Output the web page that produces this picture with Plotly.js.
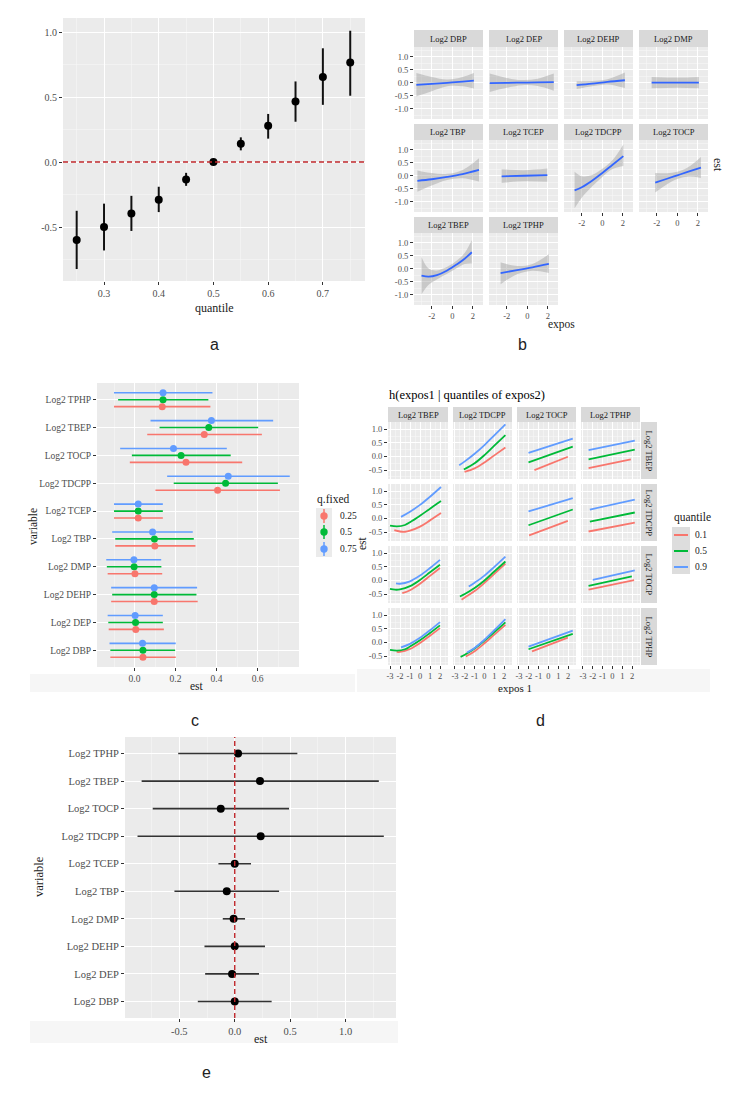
<!DOCTYPE html>
<html><head><meta charset="utf-8">
<script src="https://cdn.plot.ly/plotly-3.0.1.min.js"></script>
<style>html,body{margin:0;padding:0;background:#fff}#chart{width:738px;height:1094px}</style>
</head><body><div id="chart"></div>
<script>
// ================= DATA =================
// Panel a
const aQuantile = [0.25,0.30,0.35,0.40,0.45,0.50,0.55,0.60,0.65,0.70,0.75];
const aEst   = [-0.60,-0.50,-0.395,-0.29,-0.135,0.00,0.14,0.28,0.465,0.655,0.765];
const aLower = [-0.823,-0.68,-0.53,-0.385,-0.183,0.00,0.09,0.18,0.31,0.44,0.51];
const aUpper = [-0.375,-0.32,-0.26,-0.19,-0.083,0.00,0.19,0.37,0.62,0.875,1.01];

// Panel b (univariate exposure-response, est with ribbon)
const bFacetNames = ['Log2 DBP','Log2 DEP','Log2 DEHP','Log2 DMP','Log2 TBP','Log2 TCEP','Log2 TDCPP','Log2 TOCP','Log2 TBEP','Log2 TPHP'];
const bDBP_x=[-3.5,-2,-0.5,1,2.1],    bDBP_est=[-0.09,-0.05,-0.01,0.04,0.08], bDBP_lo=[-0.53,-0.33,-0.14,-0.14,-0.23], bDBP_hi=[0.37,0.22,0.12,0.22,0.37];
const bDEP_x=[-3.66,-2,-0.5,1,2.58],  bDEP_est=[-0.02,-0.01,0,0.01,0.02],     bDEP_lo=[-0.36,-0.2,-0.1,-0.13,-0.31],  bDEP_hi=[0.35,0.18,0.1,0.15,0.35];
const bDEHP_x=[-2.5,-1,0.5,2.2],      bDEHP_est=[-0.1,-0.04,0.03,0.09],       bDEHP_lo=[-0.25,-0.14,-0.07,-0.21],     bDEHP_hi=[0.05,0.06,0.13,0.39];
const bDMP_x=[-2.5,0,2.1],            bDMP_est=[0,0,0],                       bDMP_lo=[-0.22,-0.2,-0.22],             bDMP_hi=[0.22,0.2,0.22];
const bTBP_x=[-3.4,-2,-0.5,1,2.6],    bTBP_est=[-0.2,-0.14,-0.05,0.06,0.22],  bTBP_lo=[-0.62,-0.38,-0.17,-0.1,-0.23], bTBP_hi=[0.2,0.1,0.07,0.22,0.67];
const bTCEP_x=[-2.5,-0.3,1.95],       bTCEP_est=[-0.03,-0.005,0.02],          bTCEP_lo=[-0.28,-0.22,-0.24],           bTCEP_hi=[0.24,0.21,0.27];
const bTDCPP_x=[-2.7,-2,-1,0,1,2.05], bTDCPP_est=[-0.57,-0.45,-0.2,0.1,0.42,0.75], bTDCPP_lo=[-1.26,-0.85,-0.42,-0.05,0.25,0.37], bTDCPP_hi=[0.15,-0.02,0.02,0.26,0.6,1.2];
const bTOCP_x=[-2.15,-1,0,1,2.3],     bTOCP_est=[-0.27,-0.12,0.01,0.14,0.31], bTOCP_lo=[-0.65,-0.33,-0.13,-0.04,-0.09], bTOCP_hi=[0.1,0.09,0.15,0.31,0.72];
const bTBEP_x=[-3,-2.3,-1.5,-0.5,0.5,1.2,1.9], bTBEP_est=[-0.27,-0.31,-0.25,-0.07,0.18,0.38,0.63], bTBEP_lo=[-0.99,-0.62,-0.42,-0.2,0.03,0.18,0.2], bTBEP_hi=[0.45,0.0,-0.07,0.07,0.33,0.6,1.1];
const bTPHP_x=[-2.6,-1,0.5,2.1],      bTPHP_est=[-0.17,-0.06,0.05,0.18],      bTPHP_lo=[-0.6,-0.22,-0.08,-0.17],      bTPHP_hi=[0.24,0.1,0.18,0.55];

// Panel c (single-variable effects at fixed quantiles)
const cVariables = ['Log2 DBP','Log2 DEP','Log2 DEHP','Log2 DMP','Log2 TBP','Log2 TCEP','Log2 TDCPP','Log2 TOCP','Log2 TBEP','Log2 TPHP'];
const cQuantiles = ['0.25','0.5','0.75'];
const c25_est = [0.041,0.006,0.096,0.002,0.099,0.018,0.405,0.251,0.340,0.135];
const c25_lo  = [-0.118,-0.126,-0.114,-0.131,-0.094,-0.100,0.102,-0.023,0.062,-0.100];
const c25_hi  = [0.201,0.143,0.308,0.135,0.297,0.138,0.709,0.525,0.621,0.370];
const c50_est = [0.041,0.005,0.096,-0.002,0.097,0.018,0.444,0.227,0.362,0.139];
const c50_lo  = [-0.118,-0.128,-0.109,-0.135,-0.094,-0.100,0.191,-0.013,0.122,-0.080];
const c50_hi  = [0.198,0.138,0.302,0.131,0.289,0.138,0.699,0.469,0.603,0.360];
const c75_est = [0.039,0.003,0.096,-0.003,0.088,0.018,0.457,0.190,0.375,0.139];
const c75_lo  = [-0.122,-0.131,-0.114,-0.138,-0.109,-0.100,0.159,-0.070,0.078,-0.100];
const c75_hi  = [0.201,0.138,0.305,0.130,0.284,0.138,0.757,0.450,0.676,0.380];

// Panel d (bivariate: h(expos1 | quantiles of expos2)); rows = expos2, cols = expos1
const dVars = ['Log2 TBEP','Log2 TDCPP','Log2 TOCP','Log2 TPHP'];
const dQuantiles = ['0.1','0.5','0.9'];
const dR1C2 = {x1:[-2.03,-1,0,1,2.13], y1:[-0.57,-0.44,-0.22,0.04,0.33], x5:[-2.1,-1,0,1,2.13], y5:[-0.48,-0.25,0.05,0.4,0.79], x9:[-2.57,-2,-1,0,1,2.13], y9:[-0.32,-0.18,0.1,0.42,0.78,1.18]};
const dR1C3 = {x1:[-1.43,1.97], y1:[-0.5,-0.01], x5:[-2.03,2.47], y5:[-0.22,0.36], x9:[-2.03,2.47], y9:[0.135,0.66]};
const dR1C4 = {x1:[-2.43,1.87], y1:[-0.43,-0.11], x5:[-2.43,2.27], y5:[-0.11,0.25], x9:[-2.43,2.27], y9:[0.23,0.58]};
const dR2C1 = {x1:[-2.57,-2,-1.5,-1,0,1,2.1], y1:[-0.43,-0.48,-0.49,-0.45,-0.3,-0.07,0.2], x5:[-3,-2.3,-1.5,-1,0,1,2.1], y5:[-0.26,-0.29,-0.24,-0.14,0.1,0.36,0.64], x9:[-1.9,-1,0,1,2.1], y9:[0.06,0.25,0.5,0.8,1.16]};
const dR2C3 = {x1:[-1.97,1.97], y1:[-0.62,-0.09], x5:[-2.03,2.47], y5:[-0.25,0.33], x9:[-2.03,2.47], y9:[0.26,0.75]};
const dR2C4 = {x1:[-2.43,2.27], y1:[-0.48,-0.15], x5:[-2.3,2.27], y5:[-0.12,0.22], x9:[-2.3,2.27], y9:[0.33,0.69]};
const dR3C1 = {x1:[-1.77,-1,0,1,2], y1:[-0.47,-0.36,-0.12,0.17,0.46], x5:[-3,-2.5,-2,-1,0,1,2], y5:[-0.31,-0.34,-0.33,-0.21,0.02,0.3,0.58], x9:[-2.4,-2,-1,0,1,2], y9:[-0.11,-0.12,-0.03,0.18,0.46,0.76]};
const dR3C2 = {x1:[-2.33,-2,-1,0,1,2.13], y1:[-0.71,-0.63,-0.39,-0.09,0.24,0.62], x5:[-2.5,-2,-1,0,1,2.13], y5:[-0.59,-0.5,-0.28,0.0,0.33,0.7], x9:[-1.6,-1,0,1,2.13], y9:[-0.22,-0.08,0.18,0.5,0.88]};
const dR3C4 = {x1:[-2.43,2.2], y1:[-0.34,0.01], x5:[-2.43,1.97], y5:[-0.2,0.15], x9:[-2.0,2.27], y9:[0.02,0.37]};
const dR4C1 = {x1:[-2.33,-2,-1,0,1,2], y1:[-0.35,-0.35,-0.24,-0.02,0.25,0.53], x5:[-3,-2.3,-1.5,-1,0,1,2], y5:[-0.27,-0.3,-0.25,-0.15,0.08,0.35,0.63], x9:[-1.9,-1,0,1,2], y9:[-0.18,-0.05,0.17,0.45,0.75]};
const dR4C2 = {x1:[-1.9,-1,0,1,2.13], y1:[-0.52,-0.32,-0.03,0.29,0.65], x5:[-2.43,-2,-1,0,1,2.13], y5:[-0.53,-0.45,-0.22,0.07,0.38,0.74], x9:[-1.77,-1,0,1,2.13], y9:[-0.37,-0.2,0.1,0.45,0.86]};
const dR4C3 = {x1:[-1.67,1.97], y1:[-0.33,0.18], x5:[-2.03,2.47], y5:[-0.25,0.32], x9:[-2.03,2.47], y9:[-0.15,0.44]};

// Panel e
const eVariables = ['Log2 DBP','Log2 DEP','Log2 DEHP','Log2 DMP','Log2 TBP','Log2 TCEP','Log2 TDCPP','Log2 TOCP','Log2 TBEP','Log2 TPHP'];
const eEst = [0,-0.024,0,-0.01,-0.072,0,0.234,-0.126,0.228,0.03];
const eLo  = [-0.333,-0.267,-0.273,-0.108,-0.544,-0.147,-0.877,-0.74,-0.84,-0.51];
const eHi  = [0.333,0.219,0.273,0.093,0.40,0.147,1.345,0.49,1.30,0.565];

// ================= BUILD =================
const W=738,H=1094;
const px=x=>x/W, py=y=>1-y/H;
const SERIF='Liberation Serif';
const TICKCOL='#4D4D4D';
const qCols=['#F8766D','#00BA38','#619CFF'];
const layout={width:W,height:H,margin:{l:0,r:0,t:0,b:0},paper_bgcolor:'#ffffff',plot_bgcolor:'#EBEBEB',
  showlegend:false,shapes:[],annotations:[],font:{family:SERIF}};
const traces=[];
let axN=0;
function baseAxis(size){return {showgrid:true,gridcolor:'#FFFFFF',gridwidth:1,zeroline:false,showline:false,
  ticks:'outside',ticklen:3,tickwidth:1,tickcolor:'#333333',tickfont:{family:SERIF,size:size,color:TICKCOL},
  automargin:false,fixedrange:true,tickmode:'array'};}
function minorGrid(vals){return {tickmode:'array',tickvals:vals,showgrid:true,gridcolor:'#F6F6F6',gridwidth:0.6,ticks:''};}
function addAxes(x0,x1,y0,y1,xo,yo,size){
  axN++;
  const sfx=axN===1?'':String(axN);
  layout['xaxis'+sfx]=Object.assign(baseAxis(size),{domain:[px(x0),px(x1)],anchor:'y'+sfx},xo);
  layout['yaxis'+sfx]=Object.assign(baseAxis(size),{domain:[py(y1),py(y0)],anchor:'x'+sfx},yo);
  return {x:'x'+sfx,y:'y'+sfx};
}
function ann(text,x,y,o){layout.annotations.push(Object.assign({text:text,x:px(x),y:py(y),xref:'paper',yref:'paper',showarrow:false,
  xanchor:'center',yanchor:'middle',font:{family:SERIF,size:11,color:'#1A1A1A'}},o||{}));}
function rect(x0,y0,x1,y1,fill,layer){layout.shapes.push({type:'rect',xref:'paper',yref:'paper',x0:px(x0),x1:px(x1),y0:py(y1),y1:py(y0),
  fillcolor:fill,line:{width:0},layer:layer||'below'});}

// ---------- Panel a ----------
{
  const ax=addAxes(63,365,18,281,
    {range:[0.225,0.777],tickvals:[0.3,0.4,0.5,0.6,0.7],ticktext:['0.3','0.4','0.5','0.6','0.7'],minor:minorGrid([0.25,0.35,0.45,0.55,0.65,0.75])},
    {range:[-0.915,1.108],tickvals:[-0.5,0,0.5,1],ticktext:['-0.5','0.0','0.5','1.0'],minor:minorGrid([-0.75,-0.25,0.25,0.75])},10);
  traces.push({type:'scatter',mode:'markers',x:aQuantile,y:aEst,xaxis:ax.x,yaxis:ax.y,hoverinfo:'skip',
    marker:{color:'#000',size:8},
    error_y:{type:'data',symmetric:false,array:aUpper.map((u,i)=>u-aEst[i]),arrayminus:aEst.map((e,i)=>e-aLower[i]),width:0,thickness:2,color:'#111'}});
  layout.shapes.push({type:'line',xref:ax.x+' domain',yref:ax.y,x0:0,x1:1,y0:0,y1:0,line:{color:'#C0282D',width:1.4,dash:'5px,3px'},layer:'above'});
  ann('quantile',214,308,{font:{family:SERIF,size:12,color:'#1A1A1A'}});
}

// ---------- Panel b ----------
{
  const bSets=[[bDBP_x,bDBP_est,bDBP_lo,bDBP_hi],[bDEP_x,bDEP_est,bDEP_lo,bDEP_hi],[bDEHP_x,bDEHP_est,bDEHP_lo,bDEHP_hi],[bDMP_x,bDMP_est,bDMP_lo,bDMP_hi],
    [bTBP_x,bTBP_est,bTBP_lo,bTBP_hi],[bTCEP_x,bTCEP_est,bTCEP_lo,bTCEP_hi],[bTDCPP_x,bTDCPP_est,bTDCPP_lo,bTDCPP_hi],[bTOCP_x,bTOCP_est,bTOCP_lo,bTOCP_hi],
    [bTBEP_x,bTBEP_est,bTBEP_lo,bTBEP_hi],[bTPHP_x,bTPHP_est,bTPHP_lo,bTPHP_hi]];
  const cols=[[414,483],[489,558],[564,633],[639,708]];
  const rows=[[30,47,119],[124,140,212],[217,233,305]];
  bFacetNames.forEach((name,i)=>{
    const r=Math.floor(i/4), c=i%4;
    const [x0,x1]=cols[c]; const [s0,p0,p1]=rows[r];
    const showX=(i+4)>=bFacetNames.length, showY=(c===0);
    const ax=addAxes(x0,x1,p0,p1,
      {range:[-3.73,2.99],tickvals:[-2,0,2],ticktext:['-2','0','2'],minor:minorGrid([-3,-1,1]),showticklabels:showX,ticks:showX?'outside':''},
      {range:[-1.4,1.37],tickvals:[-1,-0.5,0,0.5,1],ticktext:['-1.0','-0.5','0.0','0.5','1.0'],minor:minorGrid([-1.25,-0.75,-0.25,0.25,0.75,1.25]),showticklabels:showY,ticks:showY?'outside':''},8.5);
    const [bx,be,bl,bh]=bSets[i];
    traces.push({type:'scatter',mode:'lines',x:bx,y:bl,xaxis:ax.x,yaxis:ax.y,line:{width:0,shape:'spline'},hoverinfo:'skip'});
    traces.push({type:'scatter',mode:'lines',x:bx,y:bh,xaxis:ax.x,yaxis:ax.y,line:{width:0,shape:'spline'},fill:'tonexty',fillcolor:'rgba(153,153,153,0.42)',hoverinfo:'skip'});
    traces.push({type:'scatter',mode:'lines',x:bx,y:be,xaxis:ax.x,yaxis:ax.y,line:{width:1.8,color:'#3366FF',shape:'spline'},hoverinfo:'skip'});
    rect(x0,s0,x1,p0,'#D9D9D9','below');
    ann(name,(x0+x1)/2,(s0+p0)/2,{font:{family:SERIF,size:8.5,color:'#1A1A1A'}});
  });
  ann('est',718,165,{textangle:90,font:{family:SERIF,size:12,color:'#1A1A1A'}});
  ann('expos',561,325,{font:{family:SERIF,size:11.5,color:'#1A1A1A'}});
}

// ---------- Panel c ----------
{
  rect(30,674,355,692,'#F6F6F6','below');
  const ax=addAxes(97,299,383,667,
    {range:[-0.183,0.802],tickvals:[0,0.2,0.4,0.6],ticktext:['0.0','0.2','0.4','0.6'],minor:minorGrid([-0.1,0.1,0.3,0.5,0.7])},
    {range:[0.4,10.6],tickvals:cVariables.map((_,i)=>i+1),ticktext:cVariables},9.5);
  const sets=[[c25_est,c25_lo,c25_hi],[c50_est,c50_lo,c50_hi],[c75_est,c75_lo,c75_hi]];
  const dodge=[-0.25,0,0.25];
  sets.forEach(([e,l,h],k)=>{
    traces.push({type:'scatter',mode:'markers',x:e,y:cVariables.map((_,i)=>i+1+dodge[k]),xaxis:ax.x,yaxis:ax.y,hoverinfo:'skip',
      marker:{color:qCols[k],size:7},
      error_x:{type:'data',symmetric:false,array:h.map((v,i)=>v-e[i]),arrayminus:e.map((v,i)=>v-l[i]),width:0,thickness:1.6,color:qCols[k]}});
  });
  ann('est',197,686,{font:{family:SERIF,size:11.5,color:'#1A1A1A'}});
  ann('variable',33,527,{textangle:-90,font:{family:SERIF,size:11.5,color:'#1A1A1A'}});
  // legend
  ann('q.fixed',315,499,{xanchor:'left',font:{family:SERIF,size:11.5,color:'#1A1A1A'}});
  rect(316,508,332,557,'#EBEBEB','below');
  const ky=[516,532,549];
  cQuantiles.forEach((q,k)=>{
    layout.shapes.push({type:'line',xref:'paper',yref:'paper',x0:px(324),x1:px(324),y0:py(ky[k]+7),y1:py(ky[k]-7),line:{color:qCols[k],width:1.5}});
    layout.shapes.push({type:'circle',xref:'paper',yref:'paper',x0:px(320.3),x1:px(327.7),y0:py(ky[k]+3.7),y1:py(ky[k]-3.7),fillcolor:qCols[k],line:{width:0}});
    ann(q,338,ky[k],{xanchor:'left',font:{family:SERIF,size:9.5,color:'#1A1A1A'}});
  });
}

// ---------- Panel d ----------
{
  rect(357,669,710,692,'#F6F6F6','below');
  const cols=[[388,448],[453,512],[517,576],[581,640]];
  const rows=[[422,479],[484,541],[546,603],[608,665]];
  const grid=[[null,dR1C2,dR1C3,dR1C4],[dR2C1,null,dR2C3,dR2C4],[dR3C1,dR3C2,null,dR3C4],[dR4C1,dR4C2,dR4C3,null]];
  for(let r=0;r<4;r++){
    for(let c=0;c<4;c++){
      const showX=(r===3), showY=(c===0);
      const ax=addAxes(cols[c][0],cols[c][1],rows[r][0],rows[r][1],
        {range:[-3.2,2.8],tickvals:[-3,-2,-1,0,1,2],ticktext:['-3','-2','-1','0','1','2'],minor:minorGrid([-2.5,-1.5,-0.5,0.5,1.5,2.5]),showticklabels:showX,ticks:showX?'outside':''},
        {range:[-0.83,1.27],tickvals:[-0.5,0,0.5,1],ticktext:['-0.5','0.0','0.5','1.0'],minor:minorGrid([-0.75,-0.25,0.25,0.75,1.25]),showticklabels:showY,ticks:showY?'outside':''},8.5);
      const f=grid[r][c];
      if(!f){traces.push({type:'scatter',mode:'lines',x:[],y:[],xaxis:ax.x,yaxis:ax.y,hoverinfo:'skip'});continue;}
      [[f.x1,f.y1],[f.x5,f.y5],[f.x9,f.y9]].forEach(([xx,yy],k)=>{
        traces.push({type:'scatter',mode:'lines',x:xx,y:yy,xaxis:ax.x,yaxis:ax.y,hoverinfo:'skip',line:{color:qCols[k],width:1.8,shape:'spline'}});
      });
    }
  }
  dVars.forEach((v,c)=>{
    rect(cols[c][0],407,cols[c][1],422,'#D9D9D9','below');
    ann(v,(cols[c][0]+cols[c][1])/2,414.5,{font:{family:SERIF,size:8.5,color:'#1A1A1A'}});
  });
  dVars.forEach((v,r)=>{
    rect(641,rows[r][0],657,rows[r][1],'#D9D9D9','below');
    ann(v,649,(rows[r][0]+rows[r][1])/2,{textangle:90,font:{family:SERIF,size:8.5,color:'#1A1A1A'}});
  });
  ann('h(expos1 | quantiles of expos2)',387,395,{xanchor:'left',font:{family:SERIF,size:12.5,color:'#000'}});
  ann('expos 1',515,688,{font:{family:SERIF,size:11,color:'#1A1A1A'}});
  ann('est',362,543,{textangle:-90,font:{family:SERIF,size:11.5,color:'#1A1A1A'}});
  // legend
  ann('quantile',672,517,{xanchor:'left',font:{family:SERIF,size:11.5,color:'#1A1A1A'}});
  rect(672,527,690,574,'#DDDDDD','below');
  const ky=[535,551,567];
  dQuantiles.forEach((q,k)=>{
    layout.shapes.push({type:'line',xref:'paper',yref:'paper',x0:px(674),x1:px(688),y0:py(ky[k]),y1:py(ky[k]),line:{color:qCols[k],width:2}});
    ann(q,693,ky[k],{xanchor:'left',font:{family:SERIF,size:9.5,color:'#1A1A1A'}});
  });
}

// ---------- Panel e ----------
{
  rect(30,1021,398,1043,'#F6F6F6','below');
  const ax=addAxes(125,396,737,1018,
    {range:[-0.99,1.455],tickvals:[-0.5,0,0.5,1],ticktext:['-0.5','0.0','0.5','1.0'],minor:minorGrid([-0.75,-0.25,0.25,0.75,1.25])},
    {range:[0.4,10.6],tickvals:eVariables.map((_,i)=>i+1),ticktext:eVariables},10.5);
  traces.push({type:'scatter',mode:'markers',x:eEst,y:eVariables.map((_,i)=>i+1),xaxis:ax.x,yaxis:ax.y,hoverinfo:'skip',
    marker:{color:'#000',size:8},
    error_x:{type:'data',symmetric:false,array:eHi.map((v,i)=>v-eEst[i]),arrayminus:eEst.map((v,i)=>v-eLo[i]),width:0,thickness:1.6,color:'#333'}});
  layout.shapes.push({type:'line',xref:ax.x,yref:ax.y+' domain',x0:0,x1:0,y0:0,y1:1,line:{color:'#C0282D',width:1.4,dash:'5px,3px'},layer:'above'});
  ann('est',261,1039,{font:{family:SERIF,size:12,color:'#1A1A1A'}});
  ann('variable',39,877,{textangle:-90,font:{family:SERIF,size:12.5,color:'#1A1A1A'}});
}

// panel letters
const SANS='Liberation Sans';
[['a',215,344],['b',522,344],['c',195,720],['d',540,720],['e',206,1072]].forEach(([t,x,y])=>
  ann(t,x,y,{font:{family:SANS,size:16,color:'#222'}}));

Plotly.newPlot('chart',traces,layout,{displayModeBar:false,staticPlot:true});
</script>
</body></html>
